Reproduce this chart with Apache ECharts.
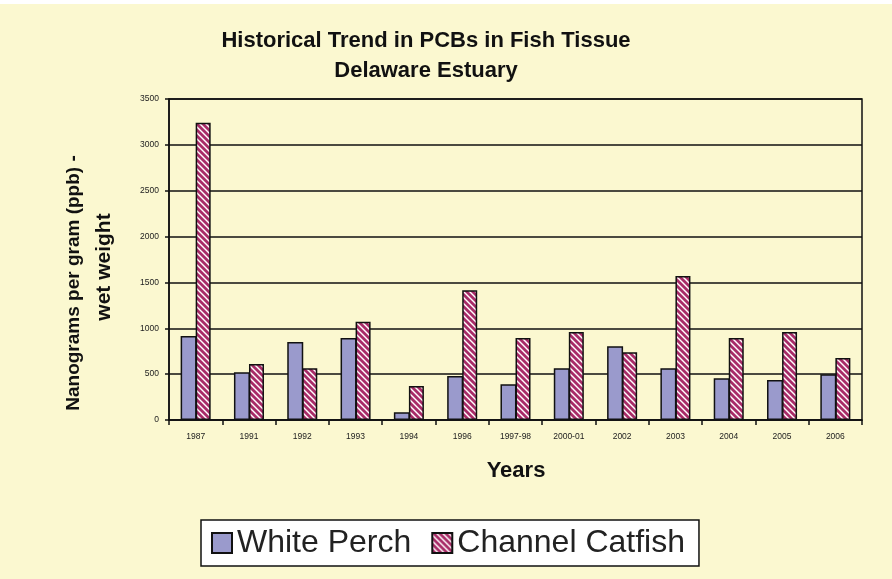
<!DOCTYPE html>
<html>
<head>
<meta charset="utf-8">
<script src="https://cdn.jsdelivr.net/npm/echarts@6/dist/echarts.min.js"></script>
<style>
  html, body { margin: 0; padding: 0; background: #ffffff; }
  #chart { width: 892px; height: 579px; }
</style>
</head>
<body>
<div id="chart"></div>
<script>
// Sampling periods
const years = ['1987', '1991', '1992', '1993', '1994', '1996', '1997-98', '2000-01', '2002', '2003', '2004', '2005', '2006'];
// PCB concentrations, ng/g (ppb) wet weight
const whitePerch = [915, 520, 850, 895, 85, 480, 390, 565, 805, 565, 455, 435, 500];
const channelCatfish = [3240, 610, 565, 1070, 370, 1415, 895, 960, 740, 1570, 895, 960, 675];
// Value axis ticks
const yMin = 0, yMax = 3500, yStep = 500;

// Diagonal hatch fill for the catfish bars
function hatch() {
  const size = 6;
  const c = document.createElement('canvas');
  c.width = size; c.height = size;
  const ctx = c.getContext('2d');
  const img = ctx.createImageData(size, size);
  for (let y = 0; y < size; y++) {
    for (let x = 0; x < size; x++) {
      const i = (y * size + x) * 4;
      const k = ((x - y) % size + size) % size;
      let r = 255, g = 255, b = 255;
      if (k < 3) { r = 168; g = 44; b = 104; }
      else if (k === 3 || k === 5) { r = 214; g = 150; b = 180; }
      img.data[i] = r; img.data[i + 1] = g; img.data[i + 2] = b; img.data[i + 3] = 255;
    }
  }
  ctx.putImageData(img, 0, 0);
  return c;
}

const chart = echarts.init(document.getElementById('chart'), null, { renderer: 'canvas' });
const font = 'Liberation Sans, Arial, sans-serif';

chart.setOption({
  backgroundColor: '#FBF8D0',
  animation: false,
  textStyle: { fontFamily: font },
  graphic: [
    { type: 'rect', shape: { x: 0, y: 0, width: 892, height: 4 }, style: { fill: '#ffffff' }, silent: true },
    {
      type: 'text', x: 426, y: 30,
      style: { text: 'Historical Trend in PCBs in Fish Tissue', font: 'bold 22px ' + font, fill: '#111', align: 'center' }
    },
    {
      type: 'text', x: 426, y: 60,
      style: { text: 'Delaware Estuary', font: 'bold 22px ' + font, fill: '#111', align: 'center' }
    },
    {
      type: 'text', x: 516, y: 460,
      style: { text: 'Years', font: 'bold 22px ' + font, fill: '#111', align: 'center' }
    },
    {
      type: 'text', x: 74, y: 283, rotation: Math.PI / 2,
      style: { text: 'Nanograms per gram (ppb) -', font: 'bold 19px ' + font, fill: '#111', align: 'center', verticalAlign: 'middle' }
    },
    {
      type: 'text', x: 104, y: 267, rotation: Math.PI / 2,
      style: { text: 'wet weight', font: 'bold 21px ' + font, fill: '#111', align: 'center', verticalAlign: 'middle' }
    }
  ],
  legend: {
    left: 201, top: 520,
    icon: 'rect',
    itemWidth: 20, itemHeight: 20, itemGap: 20,
    padding: [7, 14, 7, 10],
    backgroundColor: '#ffffff',
    borderColor: '#111', borderWidth: 1.5,
    textStyle: { fontSize: 32, color: '#222', fontFamily: font },
    data: ['White Perch', 'Channel Catfish']
  },
  grid: {
    left: 169, right: 30, top: 99, bottom: 159,
    show: true, borderColor: '#111', borderWidth: 1.5
  },
  xAxis: {
    type: 'category',
    data: years,
    axisLine: { lineStyle: { color: '#111', width: 1.5 } },
    axisTick: { show: true, alignWithLabel: false, length: 5, lineStyle: { color: '#111', width: 1.5 } },
    axisLabel: { fontSize: 8.5, color: '#222', margin: 12, interval: 0 }
  },
  yAxis: {
    type: 'value',
    min: yMin, max: yMax, interval: yStep,
    axisLine: { show: true, lineStyle: { color: '#111', width: 1.5 } },
    axisTick: { show: true, length: 4, lineStyle: { color: '#111', width: 1.5 } },
    axisLabel: { fontSize: 8.5, color: '#222', margin: 10, formatter: v => String(v) },
    splitLine: { lineStyle: { color: '#111', width: 1.5 } }
  },
  series: [
    {
      name: 'White Perch', type: 'bar', data: whitePerch,
      barWidth: 16, barGap: '-6%',
      itemStyle: { color: '#9A9ACC', borderColor: '#111', borderWidth: 1.5 }
    },
    {
      name: 'Channel Catfish', type: 'bar', data: channelCatfish,
      barWidth: 15,
      itemStyle: { color: { image: hatch(), repeat: 'repeat' }, borderColor: '#111', borderWidth: 1.5 }
    }
  ]
});
</script>
</body>
</html>
